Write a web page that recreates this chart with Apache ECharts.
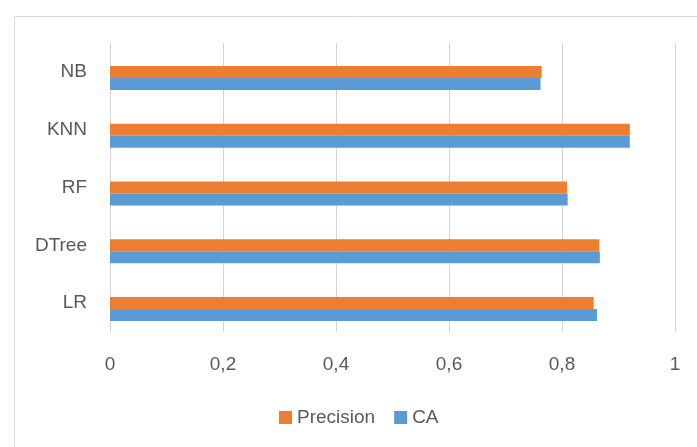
<!DOCTYPE html>
<html>
<head>
<meta charset="utf-8">
<script src="https://cdn.jsdelivr.net/npm/echarts@6/dist/echarts.min.js"></script>
<style>html,body{margin:0;padding:0;background:#fff}#c{width:697px;height:447px}</style>
</head>
<body>
<div id="c"></div>
<script>
const categories = ['LR', 'DTree', 'RF', 'KNN', 'NB'];
const precision = [0.856, 0.866, 0.809, 0.920, 0.764];
const ca = [0.862, 0.867, 0.810, 0.920, 0.762];
const xTicks = [0, 0.2, 0.4, 0.6, 0.8, 1];

const chart = echarts.init(document.getElementById('c'), null, {renderer: 'canvas'});
const font = 'Liberation Sans';
chart.setOption({
  animation: false,
  backgroundColor: '#fff',
  graphic: [{
    type: 'rect', left: 12, top: 14, silent: true,
    shape: {x: 0, y: 0, width: 700, height: 450},
    style: {fill: 'none', stroke: '#d9d9d9', lineWidth: 1}
  }],
  grid: {left: 110, right: 22, top: 43, bottom: 115, containLabel: false},
  legend: {
    left: 274, top: 403, itemWidth: 13, itemHeight: 13, itemGap: 19,
    icon: 'rect', data: ['Precision', 'CA'],
    textStyle: {fontFamily: font, fontSize: 19, color: '#595959'}
  },
  xAxis: {
    type: 'value', min: xTicks[0], max: xTicks[xTicks.length - 1], interval: 0.2,
    axisLine: {show: false}, axisTick: {show: false},
    splitLine: {show: true, lineStyle: {color: '#d4d4d4', width: 1}},
    axisLabel: {
      margin: 23, fontFamily: font, fontSize: 19, color: '#595959',
      formatter: v => String(Math.round(v * 10) / 10).replace('.', ',')
    }
  },
  yAxis: {
    type: 'category', data: categories,
    axisLine: {show: false}, axisTick: {show: false},
    axisLabel: {margin: 23, fontFamily: font, fontSize: 19, color: '#595959'}
  },
  series: [
    {name: 'blank', type: 'bar', data: categories.map(() => null), barWidth: 12, barGap: '0%'},
    {name: 'Precision', type: 'bar', data: precision, barWidth: 12, barGap: '0%', itemStyle: {color: '#ED7D31'}},
    {name: 'CA', type: 'bar', data: ca, barWidth: 12, barGap: '0%', itemStyle: {color: '#5B9BD5'}}
  ]
});
</script>
</body>
</html>
